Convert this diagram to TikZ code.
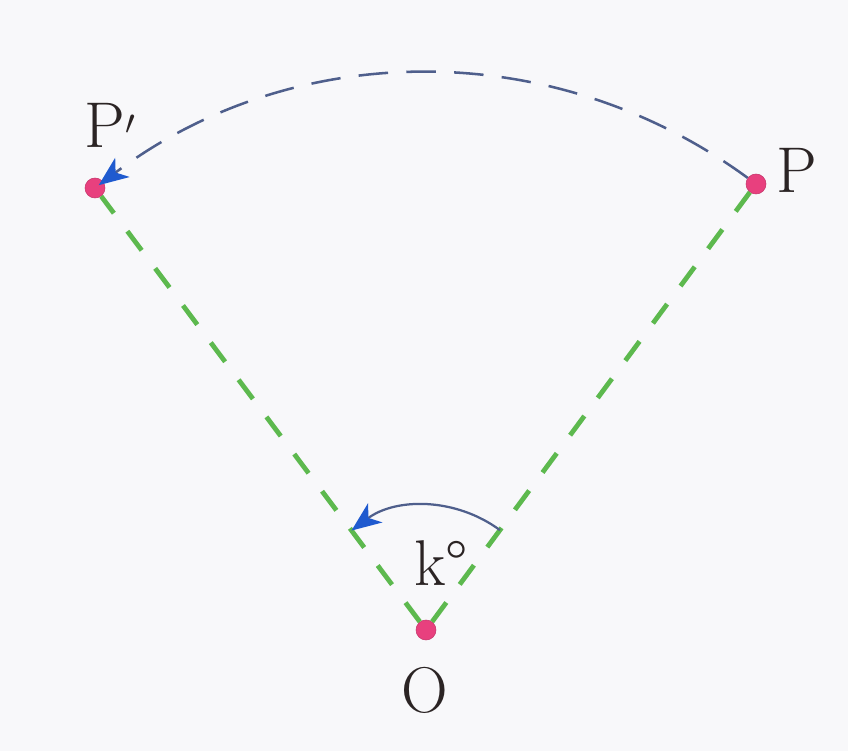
\documentclass[tikz,border=0pt]{standalone}
\usepackage{fontspec}
\usepackage{tikz}
\usetikzlibrary{arrows.meta,calc}
\definecolor{punto}{HTML}{E8407E}
\definecolor{raggio}{HTML}{5DB94E}
\definecolor{arco}{HTML}{4F5F8C}
\definecolor{punta}{HTML}{1F5ACF}
\definecolor{sfondo}{HTML}{F8F8FA}
\definecolor{testo}{HTML}{2B2424}

\tikzset{
  dot/.style={circle, fill=punto, draw=punto!85!black, line width=0.4pt, minimum size=0.5cm, inner sep=0pt},
  lbl/.style={font=\fontsize{46}{52}\selectfont, text=testo, inner sep=0pt},
  raggiodash/.style={raggio, line width=3.4pt, dash pattern=on 17pt off 16pt},
  tip/.style={-{Stealth[length=21pt, width=17pt, inset=6pt, color=punta]}}
}

\begin{document}
\begin{tikzpicture}[x=0.025cm, y=0.025cm]
  \fill[sfondo] (0,0) rectangle (848,751);
  \useasboundingbox (0,0) rectangle (848,751);
  % punti
  \node[dot] (O) at (426,121) {};
  \node[dot] (P) at (756,567) {};
  \node[dot] (Pp) at (95,563) {};
  % raggi
  \draw[raggiodash] (O) -- (P);
  \draw[raggiodash] (O) -- (Pp);
  % rotazione
  \draw[arco, line width=1.8pt, dash pattern=on 21pt off 13pt, tip, looseness=0.95, shorten >=-4pt]
    (P) to[bend right=36.6] (Pp);
  \coordinate (a1) at ($(O.center)!0.224!(P.center)$);
  \coordinate (a2) at ($(O.center)!0.225!(Pp.center)$);
  \draw[arco, line width=1.6pt, tip, looseness=0.95] (a1) to[bend right=36.6] (a2);
  % etichette
  \node[lbl] (lP) at (797,581) {P};
  \node[lbl] (lPp) at (110,626) {P$'$};
  \node[lbl] (lO) at (425,61) {O};
  \node[lbl] (lk) at (441,188) {k\textdegree};
\end{tikzpicture}
\end{document}
